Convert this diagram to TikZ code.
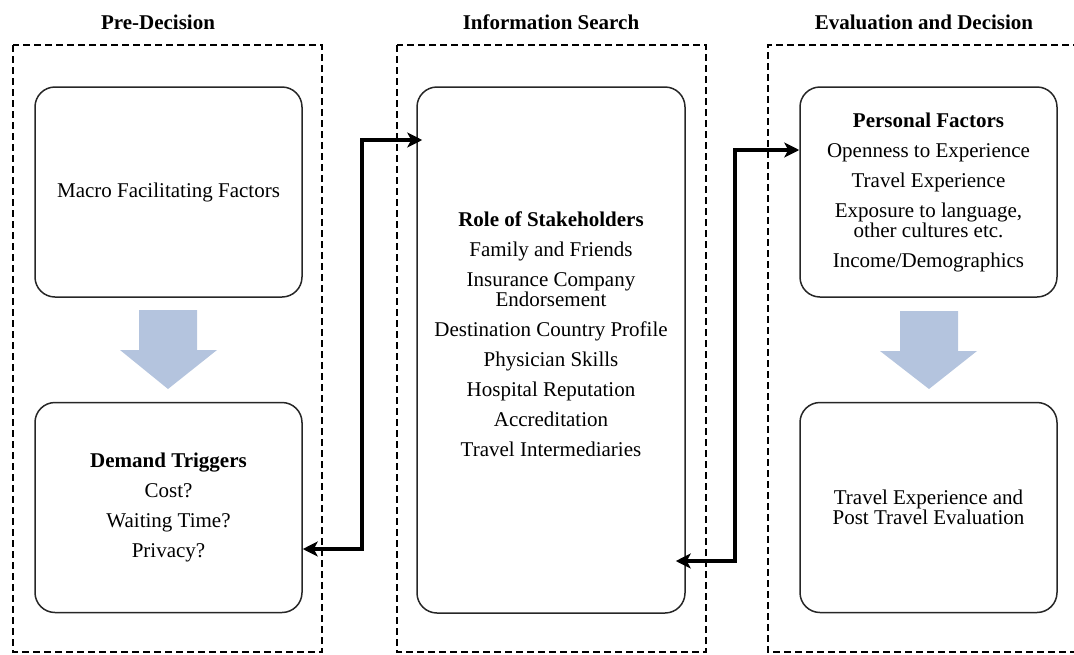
\documentclass[tikz,border=0pt]{standalone}
\usepackage{fontspec}
\setmainfont{Liberation Serif}
\usetikzlibrary{arrows.meta,calc}
\definecolor{blockblue}{RGB}{180,196,222}
\begin{document}
\begin{tikzpicture}[x=1pt,y=-1pt,
  phase/.style={draw=black, line width=1.8pt, dash pattern=on 7pt off 4pt},
  title/.style={font=\fontsize{21}{22}\selectfont\bfseries},
  rbox/.style={draw=black!85, line width=1.5pt, rounded corners=20pt, minimum width=267pt, align=center, inner sep=0pt,
    font=\fontsize{21}{20}\selectfont},
  txt/.style={align=center, inner sep=0pt, font=\fontsize{21}{20}\selectfont},
  conn/.style={line width=3.2pt, {Stealth[length=15pt,width=15pt,inset=4pt]}-{Stealth[length=15pt,width=15pt,inset=4pt]}},
  blockarrow/.style={fill=blockblue, draw=none}]
\useasboundingbox (0,0) rectangle (1074,654);

% phase frames
\draw[phase] (13,45) rectangle (322,652);
\draw[phase] (397,45) rectangle (706,652);
\draw[phase] (1080,45) -- (768,45) -- (768,652) -- (1080,652);

% titles
\node[title] (t1) at (158,22) {Pre-Decision};
\node[title] (t2) at (551,22) {Information Search};
\node[title] (t3) at (924,22) {Evaluation and Decision};

% boxes
\node[rbox, minimum height=210pt] (lt) at (168.5,192) {Macro Facilitating Factors};
\node[rbox, minimum height=210pt] (lb) at (168.5,507.5) {\textbf{Demand Triggers}\\[10pt] Cost?\\[10pt] Waiting Time?\\[10pt] Privacy?};
\node[rbox, minimum width=268pt, minimum height=526pt] (mid) at (551,350) {};
\node[txt] (midtext) at (551,334) {\textbf{Role of Stakeholders}\\[10pt] Family and Friends\\[10pt] Insurance Company\\ Endorsement\\[10pt] Destination Country Profile\\[10pt] Physician Skills\\[10pt] Hospital Reputation\\[10pt] Accreditation\\[10pt] Travel Intermediaries};
\node[rbox, minimum width=257pt, minimum height=210pt] (rt) at (928.5,192) {\textbf{Personal Factors}\\[10pt] Openness to Experience\\[10pt] Travel Experience\\[10pt] Exposure to language,\\ other cultures etc.\\[10pt] Income/Demographics};
\node[rbox, minimum width=257pt, minimum height=210pt] (rb) at (928.5,507.5) {Travel Experience and\\ Post Travel Evaluation};

% block arrows
\fill[blockarrow] (139,310) -- (197,310) -- (197,350) -- (217,350) -- (168,389) -- (120,350) -- (139,350) -- cycle;
\fill[blockarrow] (900,311) -- (958,311) -- (958,351) -- (977,351) -- (929,389) -- (880,351) -- (900,351) -- cycle;

% connectors
\draw[conn] (lb.east |- 0,549) -- (362,549) |- ($(mid.west |- 0,140)+(6,0)$);
\draw[conn] ($(mid.east |- 0,561)+(-10,0)$) -- (735,561) |- (rt.west |- 0,150);
\end{tikzpicture}
\end{document}
